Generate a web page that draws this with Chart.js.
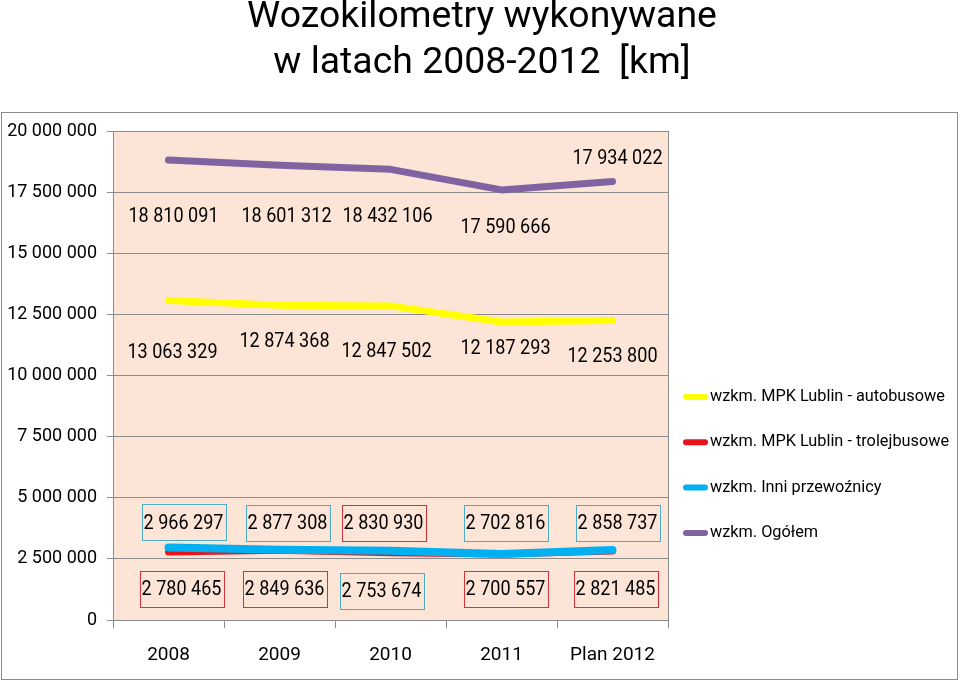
<!DOCTYPE html>
<html>
<head>
<meta charset="utf-8">
<script src="https://cdn.jsdelivr.net/npm/chart.js@4.4.1/dist/chart.umd.min.js"></script>
<style>
    html, body { margin: 0; padding: 0; background: #fff; }
    #wrap { position: relative; width: 960px; height: 682px; }
</style>
</head>
<body>
<div id="wrap"><canvas id="lineChart" width="960" height="682"></canvas></div>
<script>
// dane z wykresu
var years = ['2008', '2009', '2010', '2011', 'Plan 2012'];
var autobusowe = [13063329, 12874368, 12847502, 12187293, 12253800];
var trolejbusowe = [2780465, 2849636, 2753674, 2700557, 2821485];
var inni = [2966297, 2877308, 2830930, 2702816, 2858737];
var ogolem = [18810091, 18601312, 18432106, 17590666, 17934022];
var yMin = 0, yMax = 20000000, yStep = 2500000;

var FONT = 'Roboto, "Liberation Sans", sans-serif';
var RED = '#e8141b', CYAN = '#00b0f0', YELLOW = '#ffff00', PURPLE = '#8064a2';
var BOX_RED = '#d2323a', BOX_CYAN = '#4bacc6';

function fmt(v) {
    return String(v).replace(/\B(?=(\d{3})+(?!\d))/g, ' ');
}

// rozmiar czcionki dobrany do szerokosci tekstu
function fitFont(ctx, text, width) {
    ctx.font = '20px ' + FONT;
    var w = ctx.measureText(text).width;
    return (20 * width / w).toFixed(1) + 'px ' + FONT;
}

var decor = {
    id: 'decor',
    beforeDraw: function (chart) {
        var ctx = chart.ctx, a = chart.chartArea;
        ctx.save();
        ctx.fillStyle = '#fff';
        ctx.fillRect(0, 0, chart.width, chart.height);
        ctx.strokeStyle = '#8c8c8c';
        ctx.lineWidth = 1;
        ctx.strokeRect(1.5, 112.5, 956, 567);
        ctx.fillStyle = '#fce4d6';
        ctx.fillRect(a.left, a.top, a.right - a.left, a.bottom - a.top);
        ctx.restore();
    },
    afterDraw: function (chart) {
        var ctx = chart.ctx, a = chart.chartArea;
        ctx.save();
        ctx.strokeStyle = '#8c8c8c';
        ctx.lineWidth = 1;
        ctx.beginPath();
        ctx.moveTo(Math.round(a.right) + 0.5, a.top);
        ctx.lineTo(Math.round(a.right) + 0.5, a.bottom);
        ctx.stroke();

        // tytul
        ctx.fillStyle = '#000';
        ctx.textAlign = 'center';
        ctx.textBaseline = 'middle';
        ctx.font = fitFont(ctx, 'Wozokilometry wykonywane', 470);
        ctx.fillText('Wozokilometry wykonywane', 482, 18);
        ctx.fillText('w latach 2008-2012  [km]', 482, 64);

        // etykiety danych (lekko zwezone jak Calibri)
        chart.data.datasets.forEach(function (ds, i) {
            var meta = chart.getDatasetMeta(i);
            meta.data.forEach(function (pt, j) {
                var x = pt.x + ds.lbl.dx[j];
                var y = pt.y + ds.lbl.dy[j];
                if (ds.lbl.box) {
                    ctx.strokeStyle = ds.lbl.box[j];
                    ctx.lineWidth = 1;
                    ctx.strokeRect(Math.round(x - 42) + 0.5, Math.round(y - 18) + 0.5, 84, 36);
                }
                ctx.save();
                ctx.translate(x, y + 1);
                ctx.scale(0.88, 1);
                ctx.font = '20.5px ' + FONT;
                ctx.fillStyle = '#000';
                ctx.fillText(fmt(ds.data[j]), 0, 0);
                ctx.restore();
            });
        });

        // legenda
        ctx.textAlign = 'left';
        ctx.font = fitFont(ctx, chart.data.datasets[0].label, 235);
        chart.data.datasets.forEach(function (ds, i) {
            var y = 397 + i * 45.3;
            ctx.strokeStyle = ds.borderColor;
            ctx.lineWidth = 6;
            ctx.lineCap = 'round';
            ctx.beginPath();
            ctx.moveTo(686, y);
            ctx.lineTo(705, y);
            ctx.stroke();
            ctx.fillStyle = '#000';
            ctx.fillText(ds.label, 710, y);
        });
        ctx.restore();
    }
};

var ctx = document.getElementById('lineChart').getContext('2d');
var myChart = new Chart(ctx, {
    type: 'line',
    data: {
        labels: years,
        datasets: [{
            label: 'wzkm. MPK Lublin - autobusowe',
            data: autobusowe,
            borderColor: YELLOW,
            order: 1,
            lbl: { dx: [4, 5, -4, 4, 0], dy: [51, 36, 45, 26, 35] }
        }, {
            label: 'wzkm. MPK Lublin - trolejbusowe',
            data: trolejbusowe,
            borderColor: RED,
            order: 4,
            lbl: { dx: [13, 5, -9, 4, 3], dy: [37, 39, 38, 35, 38], box: [BOX_RED, BOX_RED, BOX_CYAN, BOX_RED, BOX_RED] }
        }, {
            label: 'wzkm. Inni przewoźnicy',
            data: inni,
            borderColor: CYAN,
            borderWidth: 8,
            order: 3,
            lbl: { dx: [15, 8, -7, 4, 5], dy: [-25, -27, -28, -31, -27], box: [BOX_CYAN, BOX_CYAN, BOX_RED, BOX_CYAN, BOX_CYAN] }
        }, {
            label: 'wzkm. Ogółem',
            data: ogolem,
            borderColor: PURPLE,
            order: 2,
            lbl: { dx: [5, 7, -3, 4, 5], dy: [56, 51, 47, 37, -24] }
        }]
    },
    options: {
        responsive: false,
        animation: false,
        layout: { padding: { top: 131, right: 292, left: 0, bottom: 0 } },
        elements: {
            line: { borderWidth: 7, tension: 0, borderCapStyle: 'round', borderJoinStyle: 'round' },
            point: { radius: 0, hoverRadius: 0 }
        },
        plugins: {
            legend: { display: false },
            tooltip: { enabled: false },
            title: { display: false }
        },
        scales: {
            x: {
                offset: true,
                grid: { offset: true, drawOnChartArea: false, tickLength: 8, color: '#8c8c8c' },
                border: { color: '#8c8c8c' },
                ticks: { color: '#000', font: { family: FONT, size: 19 }, padding: 16, maxRotation: 0 },
                afterFit: function (scale) { scale.height = 62; }
            },
            y: {
                min: yMin,
                max: yMax,
                grid: { color: '#8c8c8c', tickLength: 6 },
                border: { color: '#8c8c8c' },
                ticks: {
                    stepSize: yStep,
                    color: '#000',
                    padding: 10,
                    font: { family: FONT, size: 18 },
                    callback: function (v) { return fmt(v); }
                },
                afterFit: function (scale) { scale.width = 113; }
            }
        }
    },
    plugins: [decor]
});
</script>
</body>
</html>
